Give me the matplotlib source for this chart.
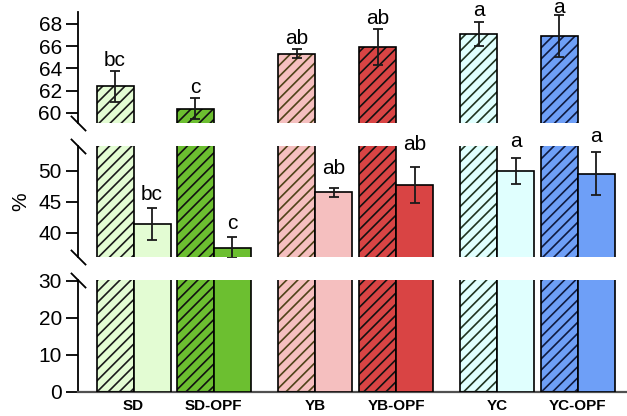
import matplotlib

matplotlib.use("Agg")
import matplotlib.pyplot as plt  # noqa: E402

plt.rcParams["font.family"] = ["Liberation Sans", "DejaVu Sans"]
plt.rcParams["hatch.linewidth"] = 1.2

# ---------------------------------------------------------------- data
groups = ["SD", "SD-OPF", "YB", "YB-OPF", "YC", "YC-OPF"]
hatched_mean = [62.4, 60.4, 65.3, 65.9, 67.1, 66.9]
hatched_err = [1.4, 0.9, 0.4, 1.6, 1.1, 1.9]
hatched_letters = ["bc", "c", "ab", "ab", "a", "a"]
plain_mean = [41.4, 37.6, 46.5, 47.7, 49.9, 49.5]
plain_err = [2.55, 1.7, 0.75, 2.85, 2.1, 3.5]
plain_letters = ["bc", "c", "ab", "ab", "a", "a"]

# ---------------------------------------------------------------- styling / layout
COLORS = ["#e3fcd3", "#6cbf30", "#f5bfbf", "#d94444", "#e0fffe", "#6e9ff7"]
HATCH_COLORS = ["#1a1a1a", "#111111", "#4f4218", "#111111", "#1f3320", "#0f1a40"]
GROUP_X = [0.0, 2.17, 4.91, 7.10, 9.83, 12.0]
HATCH_PAD = [3, 4, 4, 4, 4, 1.5]          # label offsets (pt) above the hatched-bar error bars
PLAIN_PAD = [6, 6, 10, 12, 8, 7]          # label offsets (pt) above the plain-bar error bars
W = 1.0

SEGMENTS = [  # (ylim, yticks, axes rect in figure fraction)
    ((59.1, 69.05), [60, 62, 64, 66, 68], [0.124, 0.7043, 0.8745, 0.2668]),
    ((36.1, 53.95), [40, 45, 50], [0.124, 0.3822, 0.8745, 0.2668]),
    ((0, 30.2), [0, 10, 20, 30], [0.124, 0.0577, 0.8745, 0.2690]),
]


def draw_bars(ax):
    for i, gx in enumerate(GROUP_X):
        # hatched bar: fill + hatch, then a black outline on top
        ax.bar(gx, hatched_mean[i], W, color=COLORS[i], edgecolor=HATCH_COLORS[i],
               hatch="///", linewidth=0, zorder=2)
        ax.bar(gx, hatched_mean[i], W, fill=False, edgecolor="black", linewidth=1.2, zorder=3)
        ax.bar(gx + W, plain_mean[i], W, color=COLORS[i], edgecolor="black",
               linewidth=1.2, zorder=3)
        ax.errorbar(gx, hatched_mean[i], yerr=hatched_err[i], fmt="none", ecolor="#1a1a1a",
                    elinewidth=1.3, capsize=3.5, capthick=1.3, zorder=5)
        ax.errorbar(gx + W, plain_mean[i], yerr=plain_err[i], fmt="none", ecolor="#1a1a1a",
                    elinewidth=1.3, capsize=3.5, capthick=1.3, zorder=5)


def break_mark(ax, y):
    ax.plot([0], [y], transform=ax.transAxes, marker=[(-1, 1), (1, -1)], ms=11,
            mew=1.3, color="black", clip_on=False, zorder=6)


def main():
    fig = plt.figure(figsize=(6.27, 4.16), dpi=100)
    axes = []
    for k, (ylim, yticks, rect) in enumerate(SEGMENTS):
        ax = fig.add_axes(rect)
        draw_bars(ax)
        ax.set_ylim(*ylim)
        ax.set_yticks(yticks)
        ax.set_xlim(-1.008, 13.81)
        for s in ("top", "right"):
            ax.spines[s].set_visible(False)
        ax.spines["left"].set_linewidth(1.3)
        ax.tick_params(axis="y", length=8.5, width=1.3, pad=3, labelsize=15)
        if k < 2:
            ax.spines["bottom"].set_visible(False)
            ax.tick_params(axis="x", bottom=False, labelbottom=False)
        else:
            ax.spines["bottom"].set_color("#505050")
            ax.spines["bottom"].set_linewidth(1.6)
            ax.set_xticks([gx + W / 2 for gx in GROUP_X])
            ax.set_xticklabels(groups, fontweight="bold", fontsize=11)
            ax.tick_params(axis="x", length=0, pad=5)
        if k > 0:
            break_mark(ax, 1.0)
        if k < 2:
            break_mark(ax, 0.0)
        axes.append(ax)

    ax_top, ax_mid, _ = axes
    for i, gx in enumerate(GROUP_X):
        ax_top.annotate(hatched_letters[i], (gx, hatched_mean[i] + hatched_err[i]),
                        xytext=(0, HATCH_PAD[i]), textcoords="offset points", ha="center",
                        va="baseline", fontsize=15, annotation_clip=False)
        ax_mid.annotate(plain_letters[i], (gx + W, plain_mean[i] + plain_err[i]),
                        xytext=(0, PLAIN_PAD[i]), textcoords="offset points", ha="center",
                        va="baseline", fontsize=15, annotation_clip=False)

    fig.text(0.033, 1 - 201.7 / 416, "%", rotation=90, ha="center", va="center", fontsize=15)
    fig.savefig("out.png", dpi=100)
    plt.close(fig)


if __name__ == "__main__":
    main()
